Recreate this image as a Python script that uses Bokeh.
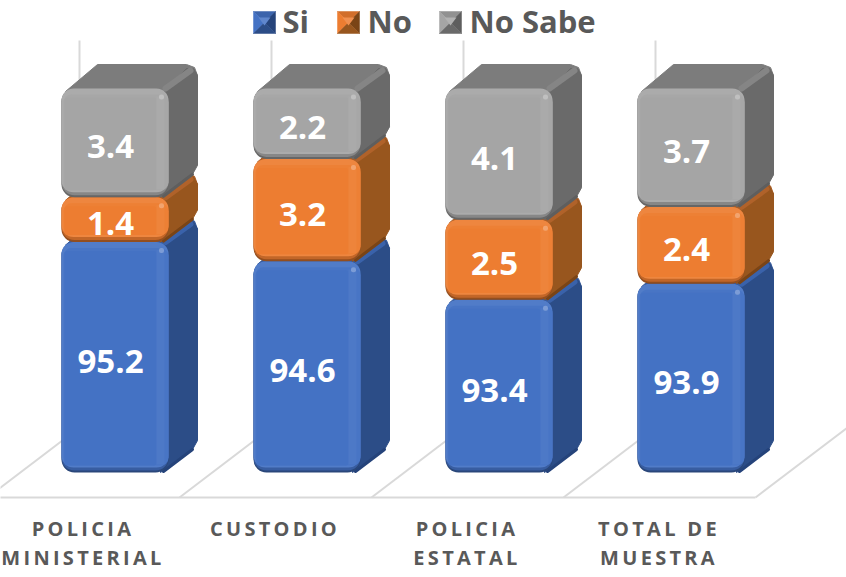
from bokeh.plotting import figure
from bokeh.models import Range1d, CustomJS
from bokeh.core.properties import value
from bokeh.document import Document
from bokeh.events import DocumentReady
from bokeh.embed import file_html
from bokeh.resources import INLINE

categories = ["POLICIA\nMINISTERIAL", "CUSTODIO", "POLICIA\nESTATAL", "TOTAL DE\nMUESTRA"]
si = [95.2, 94.6, 93.4, 93.9]
no = [1.4, 3.2, 2.5, 2.4]
no_sabe = [3.4, 2.2, 4.1, 3.7]
series_names = ["Si", "No", "No Sabe"]

W, H = 846, 577
BASE = 88.0
PX_X, PX_Y = 192.0, 32.0      # pixels per category, pixels per value unit
X0, Y0 = 114.5, 472.0         # pixel position of category 0 / of BASE
HALF = 53.5
SPACING = 3.3
styles = [
    dict(main="#4472C4", side="#2C4D87", top="#35599B", ridge="#3A62AA", edge="#25437A"),
    dict(main="#ED7D31", side="#98561E", top="#A85C24", ridge="#B0622A", edge="#7A4416"),
    dict(main="#A5A5A5", side="#6A6A6A", top="#7C7C7C", ridge="#858585", edge="#5E5E5E"),
]


def mix(c, other, t):
    a = [int(c[i:i + 2], 16) for i in (1, 3, 5)]
    b = [int(other[i:i + 2], 16) for i in (1, 3, 5)]
    return "#%02X%02X%02X" % tuple(round(x + (y - x) * t) for x, y in zip(a, b))


def dx(px):
    return px / PX_X


def dy(px):
    return -px / PX_Y   # positive px = downwards on screen


def sx(px):
    return (px - X0) / PX_X


def sy(px):
    return BASE + (Y0 - px) / PX_Y


p = figure(width=W, height=H, output_backend="svg", toolbar_location=None,
           x_range=Range1d(sx(0), sx(W)), y_range=Range1d(sy(H), sy(0)),
           min_border=0, outline_line_color=None, background_fill_color="white",
           border_fill_color="white")
p.xaxis.visible = False
p.yaxis.visible = False
p.xgrid.visible = False
p.ygrid.visible = False

GRID = "#D9D9D9"
n = len(categories)
# wall lines and floor lines
WALL_OFF, FLOOR_DX = -35.5, 92
for i in range(n + 1):
    xb = i + dx(WALL_OFF)
    p.line([xb, xb], [sy(40), sy(427)], line_color=GRID, line_width=2)
    p.line([xb, xb + dx(-FLOOR_DX)], [sy(427), sy(497)], line_color=GRID, line_width=2)
p.line([sx(-20), n + dx(WALL_OFF - FLOOR_DX)], [sy(497), sy(497)], line_color=GRID, line_width=2)

cum = [0.0] * n
stacks = []
for k, (vals, st) in enumerate(zip([si, no, no_sabe], styles)):
    b = [BASE if k == 0 else c for c in cum]
    cum = [c + v for c, v in zip(cum, vals)]
    stacks.append((b, list(cum), st))

for b, t, st in stacks:
    xs = list(range(n))
    # top face
    p.patches(
        [[i + dx(-HALF + 4), i + dx(-HALF + 36), i + dx(HALF + 18), i + dx(HALF + 26), i + dx(HALF + 29), i + dx(HALF)]
         for i in xs],
        [[tv + dy(3), tv + dy(-24), tv + dy(-24), tv + dy(-21), tv + dy(-13), tv + dy(3)] for tv in t],
        fill_color=st["top"], line_color=st["top"], line_width=1)
    # side face
    p.patches(
        [[i + dx(HALF - 6), i + dx(HALF + 18), i + dx(HALF + 25), i + dx(HALF + 29), i + dx(HALF + 29), i + dx(HALF + 24), i + dx(HALF - 8)]
         for i in xs],
        [[tv + dy(4), tv + dy(-20), tv + dy(-20), tv + dy(-13), bv + dy(-32), bv + dy(-23), bv + dy(0)] for bv, tv in zip(b, t)],
        fill_color=st["side"], line_color=st["side"], line_width=1)
    # ridge between top and side, dark lower edge of the side
    p.segment([i + dx(HALF - 3) for i in xs], [tv + dy(0) for tv in t],
              [i + dx(HALF + 22) for i in xs], [tv + dy(-18) for tv in t],
              line_color=st["ridge"], line_width=6, line_cap="round")
    p.segment([i + dx(HALF - 5) for i in xs], [bv + dy(-1) for bv in b],
              [i + dx(HALF + 24) for i in xs], [bv + dy(-23) for bv in b],
              line_color=st["edge"], line_width=3, line_cap="round")

    main = st["main"]
    layers = [
        (0, 0, 0, 0, mix(main, "#000000", 0.38), 13),
        (0, 0, 0, 2, mix(main, "#000000", 0.18), 13),
        (0, 0, 0, 5, mix(main, "#FFFFFF", 0.07), 12),
        (2, 0, 6, 7, mix(main, "#FFFFFF", 0.02), 8),
        (3, 12, 9, 7, main, 3),
    ]
    for li, ri, ti, bi, col, rad in layers:
        p.vbar(x=[i + dx((li - ri) / 2) for i in xs], width=(2 * HALF - li - ri) / PX_X,
               bottom=[bv + dy(-bi) for bv in b], top=[tv + dy(ti) for tv in t],
               fill_color=col, line_color=None, border_radius=rad)
    # right bevel strip and corner highlight
    p.vbar(x=[i + dx(HALF - 8) for i in xs], width=8 / PX_X,
           bottom=[bv + dy(-8) for bv in b], top=[tv + dy(8) for tv in t],
           fill_color=mix(main, "#FFFFFF", 0.05), line_color=None)
    p.vbar(x=[i + dx(HALF - 7) for i in xs], width=5 / PX_X,
           bottom=[tv + dy(11) for tv in t], top=[tv + dy(6) for tv in t],
           fill_color=mix(main, "#FFFFFF", 0.3), line_color=None, border_radius=2)

# data labels
for b, t, vals in zip([s[0] for s in stacks], [s[1] for s in stacks], [si, no, no_sabe]):
    p.text(x=[i + dx(-4.5) for i in range(n)], y=[(bv + tv) / 2 + dy(4) for bv, tv in zip(b, t)],
           text=[f"{v:.1f}" for v in vals], text_color="white", text_align="center",
           text_baseline="middle", text_font=value("Open Sans"), text_font_style="bold",
           text_font_size="33px")

# category labels, line by line (letter spacing grows the text to the right, so centre it by hand)
for i, c in enumerate(categories):
    for j, line in enumerate(c.split("\n")):
        p.text(x=[i + dx(-32 - len(line) * SPACING / 2)], y=[sy(528 + 29 * j)], text=[line], text_color="#595959",
               text_align="center", text_baseline="middle", text_font=value("Open Sans"),
               text_font_style="bold", text_font_size="20px")

# legend
swatch_x = [253, 337, 439]
label_x = [282, 367, 469]
for name, x0, lx, st in zip(series_names, swatch_x, label_x, styles):
    x1, y0, y1 = x0 + 22, 11, 33
    cx, cy = x0 + 11, 22
    tris = [
        ([x0, x1, cx], [y0, y0, cy], mix(st["main"], "#000000", 0.12)),
        ([x0, cx, x0], [y0, cy, y1], st["main"]),
        ([x1, cx, x1], [y0, cy, y1], st["edge"]),
        ([x0, x1, cx], [y1, y1, cy], st["side"]),
    ]
    for tx, ty, col in tris:
        p.patch([sx(v) for v in tx], [sy(v) for v in ty], fill_color=col, line_color=col, line_width=0.5)
    p.patch([sx(v) for v in (cx - 6, cx + 6, cx)], [sy(v) for v in (cy - 5, cy - 5, cy + 3)],
            fill_color=mix(st["main"], "#FFFFFF", 0.15), line_color=None)
    p.text(x=[sx(lx)], y=[sy(20)], text=[name], text_color="#595959", text_align="left",
           text_baseline="middle", text_font=value("Open Sans"), text_font_style="bold",
           text_font_size="31px")

# the category labels are letter-spaced in the reference
labels = [line for c in categories for line in c.split("\n")]
cb = CustomJS(args=dict(labels=labels, spacing=SPACING), code="""
function walk(root){
  root.querySelectorAll('*').forEach(e=>{
    if(e.tagName==='text' && labels.includes(e.textContent)){e.style.letterSpacing=spacing+'px';}
    if(e.shadowRoot){walk(e.shadowRoot);}
  });
}
[0,50,150,300,600,1000,2000].forEach(t=>setTimeout(()=>walk(document),t));
""")
doc = Document()
doc.add_root(p)
doc.js_on_event(DocumentReady, cb)
open("out.html", "w").write(file_html(doc, INLINE))
